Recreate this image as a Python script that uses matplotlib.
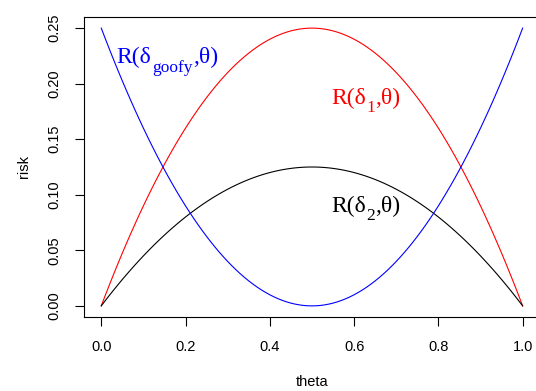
import numpy as np
import matplotlib
matplotlib.use('Agg')
import matplotlib.pyplot as plt

plt.rcParams['font.family'] = ['Liberation Sans', 'DejaVu Sans']

# risk functions R(delta, theta) evaluated on a grid of theta (as R's curve() does)
theta = np.linspace(0, 1, 101)
risk_delta1 = theta * (1 - theta)
risk_delta2 = theta * (1 - theta) / 2
risk_goofy = (theta - 0.5) ** 2

xticks = [0.0, 0.2, 0.4, 0.6, 0.8, 1.0]
yticks = [0.00, 0.05, 0.10, 0.15, 0.20, 0.25]

fig = plt.figure(figsize=(5.36, 3.91), dpi=100)
ax = fig.add_axes([84.4 / 536, 74 / 391, 455.1 / 536, 300 / 391])

ax.plot(theta, risk_delta1, color='red', lw=0.8)
ax.plot(theta, risk_delta2, color='black', lw=0.8)
ax.plot(theta, risk_goofy, color='blue', lw=0.8)

ax.set_xlim(-0.04, 1.04)
ax.set_ylim(-0.01, 0.26)
ax.set_xticks(xticks)
ax.set_xticklabels(['%.1f' % v for v in xticks])
ax.set_yticks(yticks)
ax.set_yticklabels(['%.2f' % v for v in yticks], rotation=90, va='center')
ax.tick_params(direction='out', length=6.7, width=0.8, pad=10, labelsize=10.5)
for s in ax.spines.values():
    s.set_linewidth(0.8)

ax.set_xlabel('theta', fontsize=10.5, labelpad=15)
ax.set_ylabel('risk', fontsize=10.5, labelpad=12)

serif = 'Liberation Serif'
renderer = fig.canvas.get_renderer()


def risk_label(x, y, sub, color, size=17, subsize=12.5, drop=9):
    # R(δ_sub,θ) built from pieces, like R's plotmath
    t1 = ax.text(x, y, 'R(δ', color=color, fontsize=size, family=serif,
                 ha='left', va='baseline')
    w1 = t1.get_window_extent(renderer).width
    t2 = ax.annotate(sub, xy=(x, y), xytext=(w1 + 0.5, -drop),
                     textcoords='offset pixels', color=color, fontsize=subsize,
                     family=serif, ha='left', va='baseline')
    w2 = t2.get_window_extent(renderer).width
    ax.annotate(',θ)', xy=(x, y), xytext=(w1 + w2 + 1, 0),
                textcoords='offset pixels', color=color, fontsize=size,
                family=serif, ha='left', va='baseline')


risk_label(0.037, 0.219, 'goofy', 'blue')
risk_label(0.545, 0.182, '1', 'red', drop=8)
risk_label(0.545, 0.0848, '2', 'black', drop=8)

fig.savefig('out.png', dpi=100)
